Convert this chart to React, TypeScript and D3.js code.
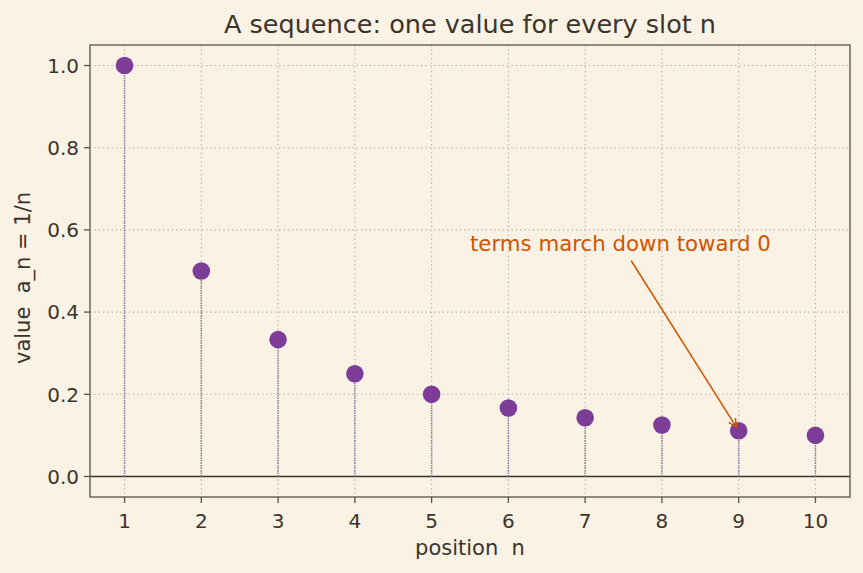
import React from 'react'
import * as d3 from 'd3'

const positions = [1, 2, 3, 4, 5, 6, 7, 8, 9, 10]
const values = [1.0, 0.5, 0.333, 0.25, 0.2, 0.1667, 0.1429, 0.125, 0.1111, 0.1]
const yTicks = [0.0, 0.2, 0.4, 0.6, 0.8, 1.0]

const W = 863
const H = 573
const margin = { left: 90, right: 13, top: 45, bottom: 76 }
const font = "'DejaVu Sans', sans-serif"
const ink = '#3b342c'
const spine = '#5c5246'
const purple = '#7d3c98'
const orange = '#d35400'
const pre = { whiteSpace: 'pre' as const }

export default function App() {
  const x = d3.scaleLinear().domain([0.55, 10.45]).range([margin.left, W - margin.right])
  const y = d3.scaleLinear().domain([-0.05, 1.05]).range([H - margin.bottom, margin.top])
  const x0 = margin.left
  const x1 = W - margin.right
  const y0 = margin.top
  const y1 = H - margin.bottom

  // annotation arrow, from text towards the 9th term
  const arrowFrom = [x(7.6), y(0.525)]
  const arrowTo = [x(8.97), y(0.12)]
  const ang = Math.atan2(arrowTo[1] - arrowFrom[1], arrowTo[0] - arrowFrom[0])
  const head = 9
  const hp = (da: number) => [arrowTo[0] - head * Math.cos(ang + da), arrowTo[1] - head * Math.sin(ang + da)]
  const h1 = hp(0.45)
  const h2 = hp(-0.45)

  return (
    <svg width={W} height={H} style={{ position: 'absolute', left: 0, top: 0, fontFamily: font }}>
      <rect width={W} height={H} fill="#faf2e4" />
      {/* grid */}
      {positions.map((p) => (
        <line key={'gx' + p} x1={x(p)} x2={x(p)} y1={y0} y2={y1} stroke="#bcb1a4" strokeWidth={1.1} strokeDasharray="1.4,2.9" />
      ))}
      {yTicks.map((t) => (
        <line key={'gy' + t} x1={x0} x2={x1} y1={y(t)} y2={y(t)} stroke="#bcb1a4" strokeWidth={1.1} strokeDasharray="1.4,2.9" />
      ))}
      {/* zero line */}
      <line x1={x0} x2={x1} y1={y(0)} y2={y(0)} stroke={ink} strokeWidth={1.4} />
      {/* stems */}
      {positions.map((p, i) => (
        <line key={'s' + p} x1={x(p)} x2={x(p)} y1={y(0)} y2={y(values[i])} stroke="#937ea0" strokeWidth={1.5} strokeDasharray="1.5,1" />
      ))}
      {positions.map((p, i) => (
        <circle key={'c' + p} cx={x(p)} cy={y(values[i])} r={8.8} fill={purple} />
      ))}
      {/* spines */}
      <rect x={x0} y={y0} width={x1 - x0} height={y1 - y0} fill="none" stroke={spine} strokeWidth={1.3} />
      {/* ticks */}
      {positions.map((p) => (
        <g key={'tx' + p}>
          <line x1={x(p)} x2={x(p)} y1={y1} y2={y1 + 6} stroke={spine} strokeWidth={1.3} />
          <text x={x(p)} y={y1 + 31} textAnchor="middle" fontSize={20} fill={ink}>{p}</text>
        </g>
      ))}
      {yTicks.map((t) => (
        <g key={'ty' + t}>
          <line x1={x0 - 6} x2={x0} y1={y(t)} y2={y(t)} stroke={spine} strokeWidth={1.3} />
          <text x={x0 - 11} y={y(t) + 7.3} textAnchor="end" fontSize={20} fill={ink}>{t.toFixed(1)}</text>
        </g>
      ))}
      <text x={(x0 + x1) / 2} y={33} textAnchor="middle" fontSize={25.5} fill={ink}>A sequence: one value for every slot n</text>
      <text x={(x0 + x1) / 2} y={555} textAnchor="middle" fontSize={21} fill={ink} style={pre}>{'position  n'}</text>
      <text transform={`translate(30, 278) rotate(-90)`} textAnchor="middle" fontSize={21} fill={ink} style={pre}>{'value  a_n = 1/n'}</text>
      {/* annotation */}
      <text x={470} y={251} fontSize={21.3} fill={orange}>terms march down toward 0</text>
      <line x1={arrowFrom[0]} y1={arrowFrom[1]} x2={arrowTo[0]} y2={arrowTo[1]} stroke={orange} strokeWidth={1.5} />
      <polyline points={`${h1[0]},${h1[1]} ${arrowTo[0]},${arrowTo[1]} ${h2[0]},${h2[1]}`} fill="none" stroke={orange} strokeWidth={1.5} />
    </svg>
  )
}
